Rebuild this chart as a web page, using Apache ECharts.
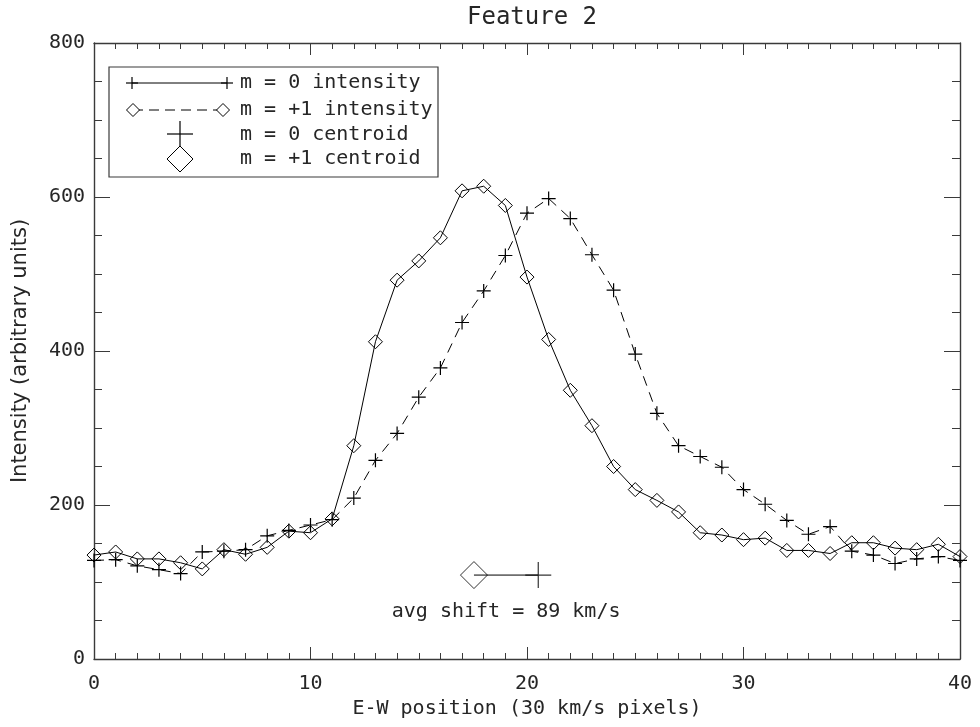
<!DOCTYPE html>
<html>
<head>
<meta charset="utf-8">
<script src="https://cdn.jsdelivr.net/npm/echarts@6/dist/echarts.min.js"></script>
<style>
html,body{margin:0;padding:0;background:#fff;}
#chart{width:980px;height:727px;}
</style>
</head>
<body>
<div id="chart"></div>
<script>
// ---- data ----
var xPositions = [0,1,2,3,4,5,6,7,8,9,10,11,12,13,14,15,16,17,18,19,20,21,22,23,24,25,26,27,28,29,30,31,32,33,34,35,36,37,38,39,40];
var m1Intensity = [135,139,130,130,125,117,142,136,145,166,164,182,277,412,492,517,547,608,614,589,496,415,349,303,250,220,206,191,164,161,155,157,141,141,137,151,151,144,142,149,133];
var m0Intensity = [128,129,121,116,111,139,140,142,160,167,174,181,209,258,293,340,378,437,478,524,579,598,572,525,479,396,319,277,263,249,220,201,180,162,172,140,135,124,130,133,128];
var centroidM1 = [17.55, 109];
var centroidM0 = [20.52, 109];
var shiftText = 'avg shift = 89 km/s';
var titleText = 'Feature 2';
var xName = 'E-W position (30 km/s pixels)';
var yName = 'Intensity (arbitrary units)';
var legendLabels = ['m = 0 intensity', 'm = +1 intensity', 'm = 0 centroid', 'm = +1 centroid'];
var xTicks = {min: 0, max: 40, interval: 10};
var yTicks = {min: 0, max: 800, interval: 200};

// ---- chart ----
var MONO = 'DejaVu Sans Mono';
var SANS = 'DejaVu Sans';
var INK = '#000';
var TXT = '#262626';
var AX = '#3a3a3a';
var PLUS = 'path://M0 5L10 5M5 0L5 10';

function pairs(xs, ys){ return xs.map(function(x,i){ return [x, ys[i]]; }); }

var chart = echarts.init(document.getElementById('chart'), null, {renderer: 'canvas'});

function xAxisDef(pos, showLabel){
  return {
    type: 'value', position: pos, min: xTicks.min, max: xTicks.max, interval: xTicks.interval,
    name: showLabel ? xName : '', nameLocation: 'middle', nameGap: 39,
    nameTextStyle: {fontFamily: MONO, fontSize: 20, color: TXT},
    axisLine: {show: true, onZero: false, lineStyle: {color: AX, width: 1.4}},
    axisTick: {show: true, inside: true, length: 12, lineStyle: {color: AX, width: 1}},
    minorTick: {show: true, splitNumber: 10, length: 6, lineStyle: {color: AX, width: 1}},
    axisLabel: {show: showLabel, margin: 15, fontFamily: MONO, fontSize: 20, color: TXT},
    splitLine: {show: false}
  };
}
function yAxisDef(pos, showLabel){
  return {
    type: 'value', position: pos, min: yTicks.min, max: yTicks.max, interval: yTicks.interval,
    name: showLabel ? yName : '', nameLocation: 'middle', nameGap: 63,
    nameTextStyle: {fontFamily: SANS, fontSize: 21, color: TXT},
    axisLine: {show: true, onZero: false, lineStyle: {color: AX, width: 1.4}},
    axisTick: {show: true, inside: true, length: 16, lineStyle: {color: AX, width: 1}},
    minorTick: {show: true, splitNumber: 4, length: 8, lineStyle: {color: AX, width: 1}},
    axisLabel: {show: showLabel, margin: 9, fontFamily: MONO, fontSize: 20, color: TXT},
    splitLine: {show: false}
  };
}

var option = {
  backgroundColor: '#fff',
  animation: false,
  title: {
    text: titleText, left: 527, top: 1, textAlign: 'center',
    textStyle: {fontFamily: MONO, fontSize: 24, fontWeight: 'normal', color: TXT}
  },
  grid: {left: 94, right: 20, top: 43, bottom: 68, containLabel: false},
  xAxis: [xAxisDef('bottom', true), xAxisDef('top', false)],
  yAxis: [yAxisDef('left', true), yAxisDef('right', false)],
  series: [
    {
      name: legendLabels[1], type: 'line', xAxisIndex: 0, yAxisIndex: 0,
      data: pairs(xPositions, m1Intensity),
      symbol: 'diamond', symbolSize: 14, showAllSymbol: true,
      lineStyle: {color: INK, width: 1, type: 'solid'},
      itemStyle: {color: 'rgba(255,255,255,0)', borderColor: INK, borderWidth: 1},
      emphasis: {disabled: true}
    },
    {
      name: legendLabels[0], type: 'line', xAxisIndex: 0, yAxisIndex: 0,
      data: pairs(xPositions, m0Intensity),
      symbol: PLUS, symbolSize: 14, showAllSymbol: true,
      lineStyle: {color: INK, width: 1, type: [10, 7]},
      itemStyle: {color: 'rgba(255,255,255,0)', borderColor: INK, borderWidth: 1.2},
      emphasis: {disabled: true}
    },
    {
      name: 'centroid shift', type: 'line', xAxisIndex: 0, yAxisIndex: 0,
      data: [centroidM1, centroidM0], symbol: 'none',
      lineStyle: {color: INK, width: 1}, emphasis: {disabled: true}
    },
    {
      name: legendLabels[3], type: 'scatter', xAxisIndex: 0, yAxisIndex: 0,
      data: [centroidM1], symbol: 'diamond', symbolSize: 27,
      itemStyle: {color: 'rgba(255,255,255,0)', borderColor: INK, borderWidth: 1},
      emphasis: {disabled: true}
    },
    {
      name: legendLabels[2], type: 'scatter', xAxisIndex: 0, yAxisIndex: 0,
      data: [centroidM0], symbol: PLUS, symbolSize: 26,
      itemStyle: {color: 'rgba(255,255,255,0)', borderColor: INK, borderWidth: 1.2},
      emphasis: {disabled: true}
    }
  ]
};
chart.setOption(option);

// annotation text below the centroid markers, placed through the axes
var mid = chart.convertToPixel({xAxisIndex: 0, yAxisIndex: 0}, [(centroidM1[0] + centroidM0[0]) / 2, centroidM1[1]]);

// legend box drawn in the IDL style
function plus(cx, cy, s, w){
  return {type: 'group', children: [
    {type: 'line', shape: {x1: cx - s/2, y1: cy, x2: cx + s/2, y2: cy}, style: {stroke: INK, lineWidth: w}},
    {type: 'line', shape: {x1: cx, y1: cy - s/2, x2: cx, y2: cy + s/2}, style: {stroke: INK, lineWidth: w}}
  ]};
}
function diamond(cx, cy, s){
  var h = s/2;
  return {type: 'polygon', shape: {points: [[cx, cy - h], [cx + h, cy], [cx, cy + h], [cx - h, cy]]},
          style: {fill: '#fff', stroke: INK, lineWidth: 1}};
}
var LX = 109, LY = 67, LW = 329, LH = 110;
var rows = [83, 110, 135, 159];
var textX = 240;
var legendEls = [
  {type: 'rect', shape: {x: LX, y: LY, width: LW, height: LH}, style: {fill: '#fff', stroke: AX, lineWidth: 1.2}},
  {type: 'line', shape: {x1: 132, y1: rows[0], x2: 227, y2: rows[0]}, style: {stroke: INK, lineWidth: 1}},
  plus(132, rows[0], 12, 1.2), plus(227, rows[0], 12, 1.2),
  {type: 'line', shape: {x1: 133, y1: rows[1], x2: 223, y2: rows[1]}, style: {stroke: INK, lineWidth: 1, lineDash: [10, 6]}},
  diamond(133, rows[1], 13), diamond(223, rows[1], 13),
  plus(180, rows[2] - 1, 26, 1.2),
  diamond(180, rows[3], 26)
];
legendLabels.forEach(function(t, i){
  legendEls.push({type: 'text', x: textX, y: rows[i], style: {text: t, fontFamily: MONO, fontSize: 20, fill: TXT, textVerticalAlign: 'middle'}});
});

chart.setOption({
  graphic: [
    {type: 'group', children: legendEls},
    {type: 'text', x: mid[0], y: mid[1] + 37, style: {text: shiftText, fontFamily: MONO, fontSize: 20, fill: TXT, textAlign: 'center', textVerticalAlign: 'middle'}}
  ]
});
</script>
</body>
</html>
